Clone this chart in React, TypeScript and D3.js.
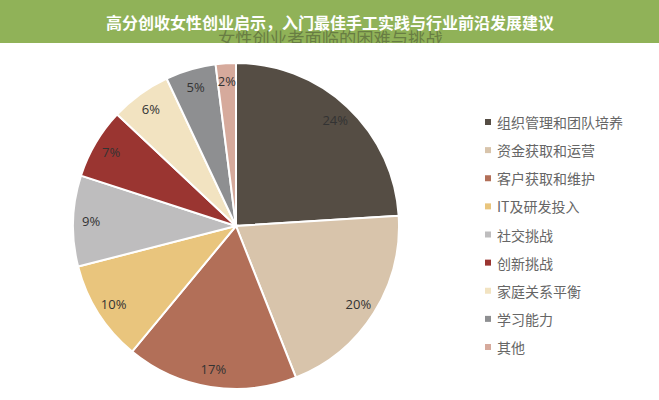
import React from "react";
import * as d3 from "d3";

const categories = [
  "组织管理和团队培养",
  "资金获取和运营",
  "客户获取和维护",
  "IT及研发投入",
  "社交挑战",
  "创新挑战",
  "家庭关系平衡",
  "学习能力",
  "其他",
];
const values = [24, 20, 17, 10, 9, 7, 6, 5, 2];
const colors = [
  "#554d44",
  "#d8c4ab",
  "#b26f58",
  "#e9c57d",
  "#bebdbe",
  "#9a3531",
  "#f2e3c1",
  "#8e8f91",
  "#d6aa9c",
];
const bannerTitle = "高分创收女性创业启示，入门最佳手工实践与行业前沿发展建议";
const chartTitle = "女性创业者面临的困难与挑战";

const width = 659;
const height = 400;

export default function App() {
  const cx = 236;
  const cy = 226;
  const radius = 163;

  const pie = d3
    .pie<number>()
    .sort(null)
    .value((d) => d);
  const slices = pie(values);

  const arcGen = d3.arc<d3.PieArcDatum<number>>().innerRadius(0).outerRadius(radius);
  const labelArc = d3
    .arc<d3.PieArcDatum<number>>()
    .innerRadius(145)
    .outerRadius(145);

  const legendY = d3
    .scalePoint<string>()
    .domain(categories)
    .range([122, 347]);

  return (
    <div style={{ position: "absolute", left: 0, top: 0 }}>
      <svg width={width} height={height} style={{ display: "block", background: "#fff" }}>
        <defs>
          <clipPath id="banner-clip">
            <rect x={0} y={0} width={width} height={43} />
          </clipPath>
        </defs>
        <rect x={0} y={0} width={width} height={43} fill="#90b258" />
        {/* faded chart title peeking out behind the banner */}
        <g clipPath="url(#banner-clip)">
          <text
            x={218}
            y={45}
            fontFamily="'Noto Sans CJK SC', sans-serif"
            fontSize={17.3}
            fill="#687d43"
          >
            {chartTitle}
          </text>
        </g>
        <text
          x={106}
          y={22}
          dominantBaseline="central"
          fontFamily="'Noto Sans CJK SC', sans-serif"
          fontSize={16}
          fontWeight="bold"
          fill="#ffffff"
        >
          {bannerTitle}
        </text>

        <g transform={`translate(${cx},${cy})`}>
          {slices.map((s, i) => (
            <path
              key={categories[i]}
              d={arcGen(s) || ""}
              fill={colors[i]}
              stroke="#ffffff"
              strokeWidth={2}
            />
          ))}
          {slices.map((s, i) => {
            const [lx, ly] = labelArc.centroid(s);
            return (
              <text
                key={"l" + i}
                x={lx}
                y={ly}
                textAnchor="middle"
                dominantBaseline="central"
                fontFamily="'Open Sans', sans-serif"
                fontSize={13}
                fill="#333"
              >
                {values[i]}%
              </text>
            );
          })}
        </g>

        <g>
          {categories.map((c, i) => (
            <g key={c} transform={`translate(0,${legendY(c)})`}>
              <rect x={485} y={-3} width={6} height={6} fill={colors[i]} />
              <text
                x={497}
                y={0}
                dominantBaseline="central"
                fontFamily="'Noto Sans CJK SC', sans-serif"
                fontSize={14}
                fill="#666"
              >
                {c}
              </text>
            </g>
          ))}
        </g>
      </svg>
    </div>
  );
}
